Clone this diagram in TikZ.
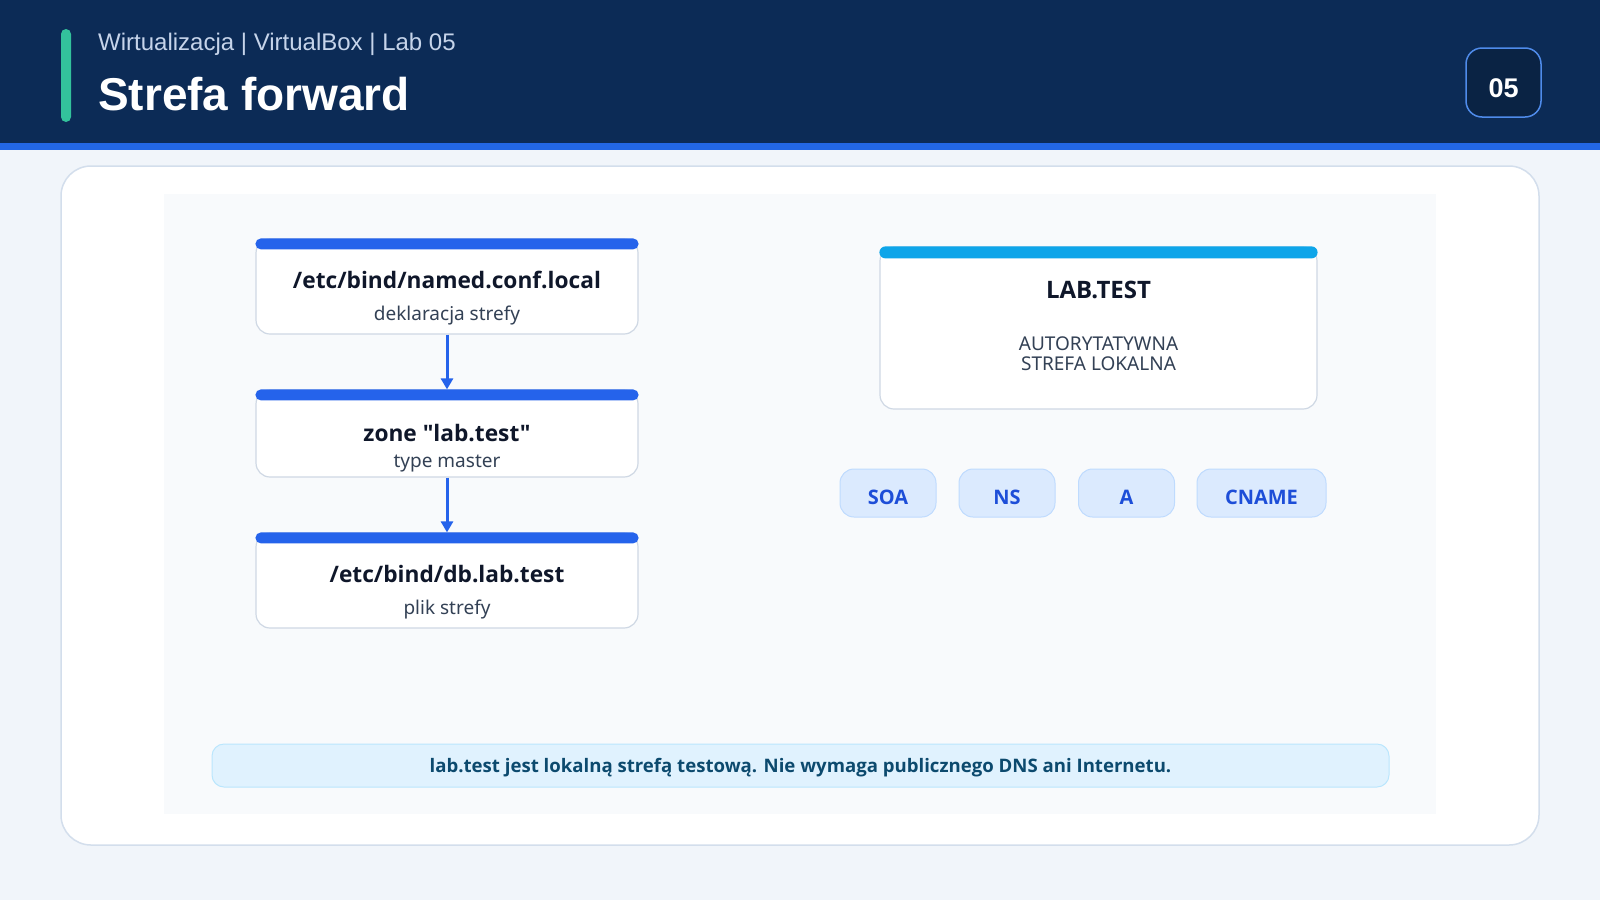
\documentclass[tikz,border=0pt]{standalone}
\usepackage{fontspec}
\setmainfont{Noto Sans}
\newfontfamily\headfont{Liberation Sans}
\newfontfamily\strongfont{Open Sans}
\usetikzlibrary{arrows.meta,positioning}

\definecolor{pagebg}{HTML}{F1F5FA}
\definecolor{navy}{HTML}{0C2B56}
\definecolor{navydark}{HTML}{0A2344}
\definecolor{stripe}{HTML}{2367E4}
\definecolor{accent}{HTML}{33C29C}
\definecolor{subtle}{HTML}{C6D4EA}
\definecolor{panelline}{HTML}{D3DEEC}
\definecolor{innerbg}{HTML}{F8FAFC}
\definecolor{cardline}{HTML}{CFD8E4}
\definecolor{barblue}{HTML}{2563EB}
\definecolor{barsky}{HTML}{0EA5E9}
\definecolor{ink}{HTML}{0F172A}
\definecolor{inksoft}{HTML}{334155}
\definecolor{pillfill}{HTML}{DBEAFE}
\definecolor{pillline}{HTML}{BFDBFE}
\definecolor{pilltext}{HTML}{1D4ED8}
\definecolor{notefill}{HTML}{E0F2FE}
\definecolor{noteline}{HTML}{BAE6FD}
\definecolor{notetext}{HTML}{0C4A6E}
\definecolor{badgeline}{HTML}{4F8BEA}

\begin{document}
\begin{tikzpicture}[x=1pt,y=-1pt]
\tikzset{card/.style={draw=cardline, fill=white, line width=1.2pt, rounded corners=14pt,
  minimum width=382pt, inner sep=0pt}}
\tikzset{cardtitle/.style={anchor=base, text=ink, font=\strongfont\bfseries\fontsize{22.7}{28}\selectfont}}
\tikzset{cardsub/.style={anchor=base, text=inksoft, font=\fontsize{19}{22}\selectfont}}
\tikzset{pill/.style={draw=pillline, fill=pillfill, line width=1pt, rounded corners=14pt,
  minimum width=96pt, minimum height=48pt, inner sep=0pt}}
\tikzset{pilltxt/.style={anchor=base, text=pilltext, font=\strongfont\bfseries\fontsize{20}{24}\selectfont}}
\tikzset{flow/.style={barblue, line width=3pt, -{Triangle[length=11pt,width=12pt]}, shorten >=0pt}}

% background and header
\fill[pagebg] (0,0) rectangle (1600,900);
\useasboundingbox (0,0) rectangle (1600,900);
\fill[navy] (0,0) rectangle (1600,143);
\fill[stripe] (0,143) rectangle (1600,150);
\fill[accent, rounded corners=5pt] (61,29) rectangle (71,122);
\node[anchor=base west, text=subtle, inner sep=0pt] (kicker) at (98,50)
  {\headfont\fontsize{24}{28}\selectfont Wirtualizacja | VirtualBox | Lab 05};
\node[anchor=base west, text=white, inner sep=0pt] (heading) at (98,110)
  {\headfont\fontsize{46}{52}\selectfont\bfseries Strefa forward};
\node[draw=badgeline, fill=navydark, line width=1.5pt, rounded corners=16pt,
  minimum width=75pt, minimum height=69pt] (badge) at (1503.5,82.5) {};
\node[anchor=base, text=white, inner sep=0pt] (badgenum) at (1503.5,97)
  {\headfont\fontsize{27}{30}\selectfont\bfseries 05};

% panel
\draw[panelline, fill=white, line width=1.5pt, rounded corners=30pt] (61,166) rectangle (1539,845);
\fill[innerbg] (164,194) rectangle (1436,814);

% left column: config chain
\node[card, minimum height=95pt] (conf) at (447,286.5) {};
\fill[barblue, rounded corners=5.5pt] (conf.north west) rectangle ([yshift=-11pt]conf.north east);
\node[cardtitle] (conft) at (447,288) {/etc/bind/named.conf.local};
\node[cardsub] (confs) at (447,320) {deklaracja strefy};

\node[card, minimum height=87pt] (zone) at (447,433.5) {};
\fill[barblue, rounded corners=5.5pt] (zone.north west) rectangle ([yshift=-11pt]zone.north east);
\node[cardtitle] (zonet) at (447,441) {zone \symbol{34}lab.test\symbol{34}};
\node[cardsub] (zones) at (447,467) {type master};

\node[card, minimum height=95pt] (db) at (447,580.5) {};
\fill[barblue, rounded corners=5.5pt] (db.north west) rectangle ([yshift=-11pt]db.north east);
\node[cardtitle] (dbt) at (447,582) {/etc/bind/db.lab.test};
\node[cardsub] (dbs) at (447,614) {plik strefy};

\draw[flow] (conf.south) -- (zone.north);
\draw[flow] (zone.south) -- (db.north);

% right column: zone and record types
\node[card, minimum width=437pt, minimum height=162pt] (lab) at (1098.5,328) {};
\fill[barsky, rounded corners=6pt] (lab.north west) rectangle ([yshift=-12pt]lab.north east);
\node[cardtitle, font=\strongfont\bfseries\fontsize{24}{28}\selectfont] (labt) at (1098.5,298) {LAB.TEST};
\node[cardsub, align=center, font=\fontsize{19}{20}\selectfont] (labs) at (1098.5,370)
  {AUTORYTATYWNA\\STREFA LOKALNA};

\node[pill] (soa) at (888,493) {};
\node[pilltxt] at (soa |- 0,504) (soat) {SOA};
\node[pill] (ns) at (1007,493) {};
\node[pilltxt] at (ns |- 0,504) (nst) {NS};
\node[pill] (a) at (1126.5,493) {};
\node[pilltxt] at (a |- 0,504) (at) {A};
\node[pill, minimum width=129pt] (cname) at (1261.5,493) {};
\node[pilltxt] at (cname |- 0,504) (cnamet) {CNAME};

% note
\node[draw=noteline, fill=notefill, line width=1pt, rounded corners=12pt,
  minimum width=1177pt, minimum height=43pt] (note) at (800.5,765.5) {};
\node[anchor=base, text=notetext, font=\strongfont\bfseries\fontsize{18.6}{22}\selectfont] (notet) at (800.5,772)
  {lab.test jest lokalną strefą testową. Nie wymaga publicznego DNS ani Internetu.};
\end{tikzpicture}
\end{document}
